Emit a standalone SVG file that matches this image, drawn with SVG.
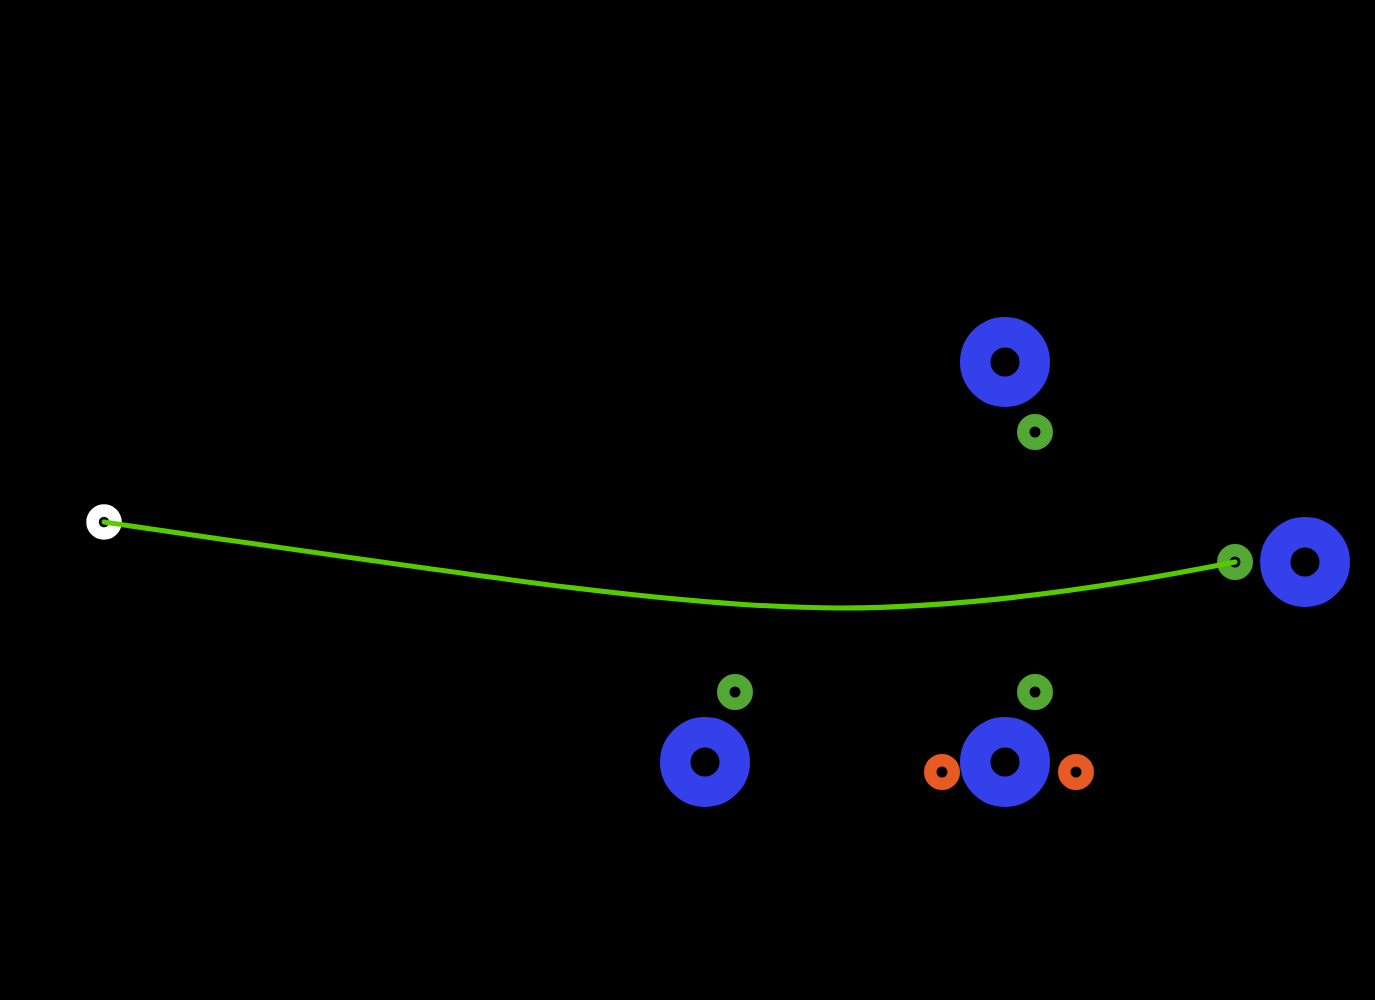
<svg xmlns="http://www.w3.org/2000/svg" width="1375" height="1000" viewBox="0 0 1375 1000">
<style>
.big{fill:none;stroke:#3440ea;stroke-width:30.5}
.sg{fill:none;stroke:#52a832;stroke-width:12.5}
.so{fill:none;stroke:#e85a24;stroke-width:12.5}
.sw{fill:none;stroke:#ffffff;stroke-width:12.5}
.edge{fill:none;stroke:#55cc00;stroke-width:5;stroke-linecap:round}
</style>
<rect x="0" y="0" width="1375" height="1000" fill="#000"/>
<g id="n-white"><circle class="sw" cx="104" cy="522" r="11.5"/></g>
<g id="n-blue1"><circle class="big" cx="1005" cy="362" r="29.75"/></g>
<g id="n-green1"><circle class="sg" cx="1035" cy="432" r="11.75"/></g>
<g id="n-blue2"><circle class="big" cx="1305" cy="562" r="29.75"/></g>
<g id="n-green2"><circle class="sg" cx="1235" cy="562" r="11.75"/></g>
<g id="n-blue3"><circle class="big" cx="705" cy="762" r="29.75"/></g>
<g id="n-green3"><circle class="sg" cx="735" cy="692" r="11.75"/></g>
<g id="n-blue4"><circle class="big" cx="1005" cy="762" r="29.75"/></g>
<g id="n-green4"><circle class="sg" cx="1035" cy="692" r="11.75"/></g>
<g id="n-orange1"><circle class="so" cx="942" cy="772" r="11.75"/></g>
<g id="n-orange2"><circle class="so" cx="1076" cy="772" r="11.75"/></g>
<g id="connectors">
<path class="edge" d="M104,522 C504,580.4 690,608 840,608 C970,608 1105,588 1235,562"/>
</g>
</svg>
